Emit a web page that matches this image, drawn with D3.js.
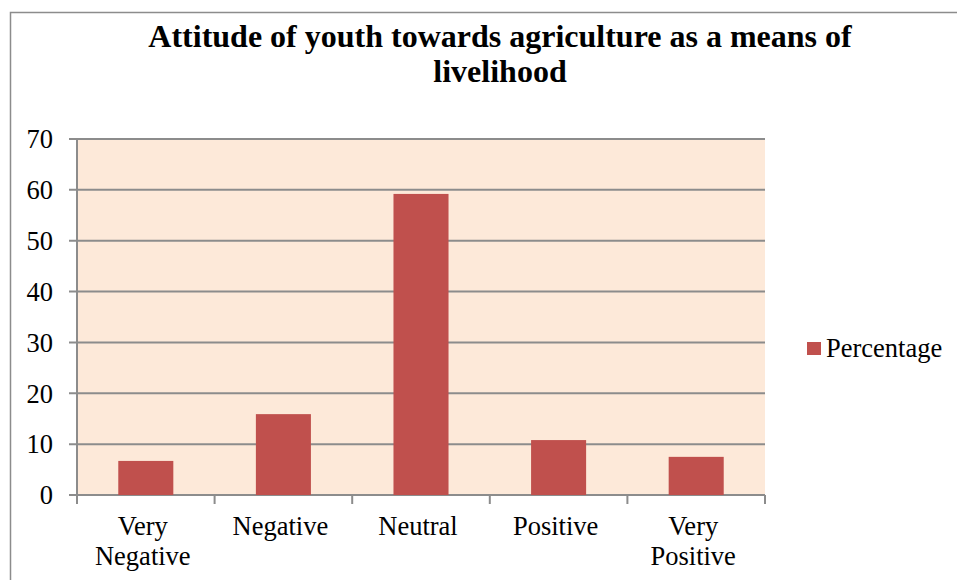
<!DOCTYPE html>
<html>
<head>
<meta charset="utf-8">
<script src="https://cdn.jsdelivr.net/npm/d3@7"></script>
<style>
  body { margin: 0; background: #fff; }
  svg { display: block; }
</style>
</head>
<body>
<svg id="chart"></svg>
<script>
// Attitude of youth chart

var width = 957,
    height = 580;

var categories = [["Very", "Negative"], ["Negative"], ["Neutral"], ["Positive"], ["Very", "Positive"]];
var values = [6.7, 15.9, 59.2, 10.8, 7.5];
var yTicks = [0, 10, 20, 30, 40, 50, 60, 70];
var seriesName = "Percentage";
var titleLines = ["Attitude of youth towards agriculture as a means of", "livelihood"];

var m = {top: 139, right: 192, bottom: 85, left: 77},
    w = width - m.left - m.right,
    h = height - m.top - m.bottom;

var barColor = "#C0504D",
    gridColor = "#8c8c8c",
    serif = "'Liberation Serif'";

var svg = d3.select("#chart")
    .attr("width", width)
    .attr("height", height);

// outer frame (right/bottom edges run off the page)
svg.append("rect")
    .attr("x", 10.5).attr("y", 12.5)
    .attr("width", 1000).attr("height", 1000)
    .attr("fill", "none")
    .attr("stroke", gridColor)
    .attr("stroke-width", 1.5);

// title
svg.append("g")
  .selectAll("text")
    .data(titleLines)
  .enter().append("text")
    .attr("x", 500)
    .attr("y", function(d, i) { return 47 + i * 35; })
    .attr("text-anchor", "middle")
    .attr("font-family", serif)
    .attr("font-weight", "bold")
    .attr("font-size", 32)
    .text(String);

var g = svg.append("g")
    .attr("transform", `translate(${m.left},${m.top})`);

var x = d3.scaleBand()
    .domain(d3.range(values.length))
    .range([0, w]);

var y = d3.scaleLinear()
    .domain([0, 70])
    .range([h, 0]);

// plot background
g.append("rect")
    .attr("width", w)
    .attr("height", h)
    .attr("fill", "#FDE9D9");

// gridlines
g.append("g")
  .selectAll("line")
    .data(yTicks)
  .enter().append("line")
    .attr("x1", -8).attr("x2", w)
    .attr("y1", function(d) { return y(d); })
    .attr("y2", function(d) { return y(d); })
    .attr("stroke", gridColor)
    .attr("stroke-width", 2);

// y axis line
g.append("line")
    .attr("x1", 0).attr("x2", 0)
    .attr("y1", 0).attr("y2", h)
    .attr("stroke", gridColor)
    .attr("stroke-width", 2);

// y tick labels
g.append("g")
  .selectAll("text")
    .data(yTicks)
  .enter().append("text")
    .attr("x", -24)
    .attr("y", function(d) { return y(d); })
    .attr("dy", "0.35em")
    .attr("text-anchor", "end")
    .attr("font-family", serif)
    .attr("font-size", 26.5)
    .text(String);

// bars
g.append("g")
  .selectAll("rect")
    .data(values)
  .enter().append("rect")
    .attr("x", function(d, i) { return x(i) + x.bandwidth() * 0.3; })
    .attr("width", x.bandwidth() * 0.4)
    .attr("y", function(d) { return y(d); })
    .attr("height", function(d) { return h - y(d); })
    .attr("fill", barColor);

// x axis tick marks
g.append("g")
  .selectAll("line")
    .data(d3.range(values.length + 1))
  .enter().append("line")
    .attr("x1", function(d) { return d * x.step(); })
    .attr("x2", function(d) { return d * x.step(); })
    .attr("y1", h).attr("y2", h + 9)
    .attr("stroke", gridColor)
    .attr("stroke-width", 2);

// x labels
var lbl = g.append("g")
  .selectAll("text")
    .data(categories)
  .enter().append("text")
    .attr("x", function(d, i) { return x(i) + x.bandwidth() / 2 - 3; })
    .attr("y", h + 40)
    .attr("text-anchor", "middle")
    .attr("font-family", serif)
    .attr("font-size", 26.5);

lbl.selectAll("tspan")
    .data(function(d) { return d; })
  .enter().append("tspan")
    .attr("x", function() { return d3.select(this.parentNode).attr("x"); })
    .attr("dy", function(d, i) { return i === 0 ? 0 : 30; })
    .text(String);

// legend
var legend = svg.append("g")
    .attr("transform", "translate(807,342)");

legend.append("rect")
    .attr("width", 14).attr("height", 13)
    .attr("fill", barColor);

legend.append("text")
    .attr("x", 19)
    .attr("y", 15)
    .attr("font-family", serif)
    .attr("font-size", 26.5)
    .text(seriesName);
</script>
</body>
</html>
